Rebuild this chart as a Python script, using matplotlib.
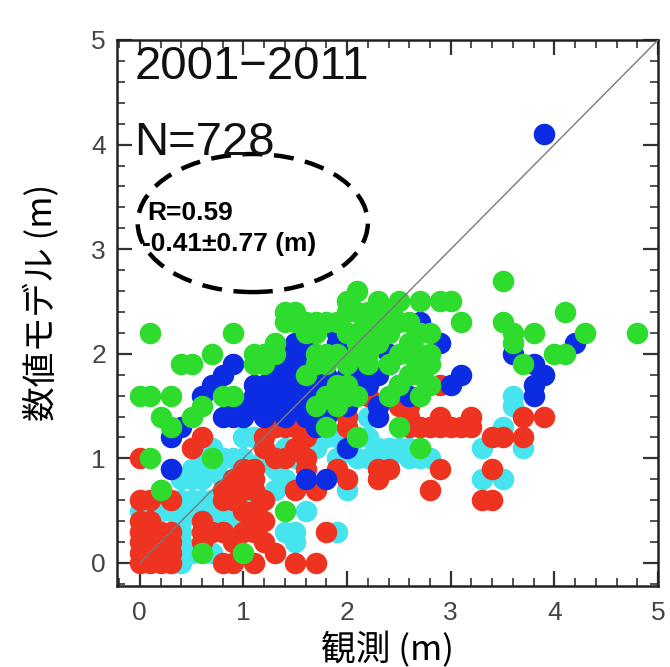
import matplotlib
matplotlib.use("Agg")
import matplotlib.pyplot as plt
from matplotlib.patches import Ellipse
from matplotlib.ticker import MultipleLocator

# ---------------- data (observed, model) ----------------
green_pts = [
    (0.1, 2.2), (0.9, 2.2), (0.4, 1.9), (0.5, 1.9), (0.7, 2.0), (0.0, 1.6), (0.1, 1.6), (0.3, 1.6),
    (0.2, 1.4), (0.3, 1.3), (0.5, 1.4), (0.6, 1.5), (0.9, 1.6), (0.8, 1.6), (0.1, 1.0), (0.7, 1.0),
    (0.2, 0.7), (1.4, 0.5), (1.0, 0.1), (0.6, 0.1),
    (1.1, 2.0), (1.1, 1.9), (1.2, 1.9), (1.2, 2.0), (1.3, 2.1), (1.3, 2.0), (1.4, 2.3), (1.4, 2.4),
    (1.5, 2.3), (1.5, 2.4), (1.6, 2.3), (1.6, 2.2), (1.7, 2.3), (1.7, 2.2), (1.8, 2.3), (1.9, 2.3),
    (2.0, 2.4), (2.0, 2.5), (2.1, 2.6), (2.1, 2.4), (2.2, 2.3), (2.2, 2.4), (2.3, 2.5), (2.4, 2.4),
    (2.3, 2.3), (2.1, 2.2), (2.0, 2.2), (1.8, 2.0), (1.9, 2.0), (1.8, 1.9), (1.7, 1.9), (1.7, 2.0),
    (1.6, 1.8), (1.8, 1.6), (1.9, 1.6), (2.0, 1.6), (1.9, 1.5), (1.7, 1.5), (2.2, 1.9), (2.2, 2.0),
    (2.3, 2.1), (2.4, 2.2), (2.5, 2.3), (2.1, 2.0), (2.0, 1.9), (2.1, 2.1), (2.2, 2.2), (1.9, 1.7),
    (2.0, 1.7),
    (2.5, 2.5), (2.7, 2.5), (2.9, 2.5), (3.0, 2.5), (3.1, 2.3), (2.6, 2.3), (2.7, 2.2), (2.8, 2.2),
    (2.6, 2.1), (2.7, 2.0), (2.8, 2.0), (2.7, 1.9), (2.8, 1.9), (2.4, 1.9), (2.6, 1.8), (2.7, 1.8),
    (2.5, 1.7), (2.8, 1.7), (2.7, 1.6), (2.4, 1.6), (2.5, 1.3), (2.7, 1.1), (2.1, 1.2), (1.8, 1.3),
    (2.1, 1.6), (2.6, 2.0), (2.5, 2.0),
    (3.5, 2.7), (3.5, 2.3), (3.6, 2.2), (3.8, 2.2), (3.7, 1.9), (4.1, 2.4), (4.3, 2.2), (4.8, 2.2),
    (4.0, 2.0), (4.1, 2.0), (3.6, 2.1),
]

blue_pts = [
    (3.9, 4.1), (4.2, 2.1), (3.6, 2.0), (3.8, 1.9), (3.9, 1.8), (3.8, 1.7), (3.8, 1.6), (2.7, 2.3),
    (2.9, 2.1), (2.4, 2.0), (2.4, 1.9), (2.3, 1.8), (3.1, 1.8), (3.0, 1.7), (2.5, 1.7), (2.6, 1.6),
    (2.3, 1.5), (1.5, 2.1), (1.9, 2.2), (2.0, 2.2), (1.4, 1.9), (1.3, 1.8), (1.1, 1.6), (1.2, 1.7),
    (1.4, 1.7), (1.5, 1.9), (1.5, 1.8), (1.6, 1.7), (1.6, 2.0), (1.5, 2.0), (1.6, 1.9), (2.0, 1.8),
    (1.8, 1.7), (1.4, 1.5), (1.0, 1.5), (1.2, 1.5), (1.7, 1.3), (1.4, 1.4), (0.9, 1.9), (0.8, 1.8),
    (0.7, 1.7), (0.8, 1.4), (1.0, 1.4), (0.9, 1.4), (0.4, 1.3), (0.3, 1.2), (0.3, 0.9), (1.1, 1.7),
    (1.3, 1.6), (1.5, 1.6), (1.5, 1.5), (1.6, 1.5), (1.7, 1.6), (1.9, 1.7), (2.0, 1.1), (1.6, 0.8),
    (1.8, 0.8), (2.3, 1.4), (1.9, 2.1), (1.3, 1.5), (1.2, 1.4), (1.4, 2.0), (1.6, 2.1), (1.7, 1.8),
    (1.8, 1.8), (2.1, 1.8), (2.2, 1.7), (2.0, 1.5), (1.1, 1.5), (0.9, 1.5), (1.6, 1.4), (1.8, 1.4),
    (0.6, 1.6), (2.0, 2.0),
]

red_pts = [
    (0.0, 0.0), (0.1, 0.0), (0.2, 0.0), (0.3, 0.0), (0.0, 0.1), (0.1, 0.1), (0.2, 0.1), (0.3, 0.1),
    (0.0, 0.2), (0.1, 0.2), (0.3, 0.2), (0.0, 0.3), (0.1, 0.3), (0.2, 0.3), (0.3, 0.3), (0.0, 0.4),
    (0.1, 0.4), (0.0, 0.6), (0.1, 0.6), (0.3, 0.6), (0.0, 1.0), (0.6, 1.2), (0.5, 1.1), (0.6, 0.4),
    (0.7, 0.3), (0.6, 0.3), (0.6, 0.2), (0.8, 0.3), (0.9, 0.2), (0.9, 0.0), (0.8, 0.0), (0.8, 0.7),
    (0.9, 0.8), (1.0, 0.9), (1.0, 0.7), (0.9, 0.6), (1.1, 0.8), (1.2, 1.2), (1.3, 1.3), (1.4, 1.4),
    (1.5, 1.3), (1.5, 1.1), (1.6, 0.9), (1.3, 1.0), (1.2, 0.6), (1.2, 0.4), (1.1, 0.4), (1.0, 0.5),
    (0.8, 0.6), (1.3, 0.1), (1.5, 0.0), (1.7, 0.0), (1.8, 0.3), (1.7, 0.7), (1.2, 1.1), (1.4, 1.3),
    (1.6, 1.2), (1.6, 1.0), (1.4, 1.0), (1.1, 0.9), (1.1, 0.7), (1.1, 0.5), (1.1, 0.3), (1.1, 0.0),
    (1.2, 0.2), (1.0, 0.3), (1.5, 0.7), (1.9, 0.9), (2.0, 0.8), (2.3, 0.8), (2.0, 1.3), (2.0, 1.4),
    (2.2, 1.6), (2.9, 1.7), (2.6, 1.5), (2.5, 1.5), (2.6, 1.4), (2.6, 1.3), (2.7, 1.3), (2.8, 1.3),
    (2.9, 1.3), (3.0, 1.3), (3.1, 1.3), (3.2, 1.3), (3.4, 1.2), (3.5, 1.2), (3.7, 1.2), (3.7, 1.4),
    (3.9, 1.4), (2.9, 1.4), (3.2, 1.4), (2.3, 0.9), (2.4, 0.9), (2.9, 0.9), (2.8, 0.7), (3.4, 0.9),
    (3.3, 0.6), (3.4, 0.6),
]

cyan_pts = [
    (0.0, 0.5), (0.1, 0.5), (0.2, 0.5), (0.3, 0.5), (0.4, 0.5), (0.5, 0.5), (0.6, 0.5), (0.7, 0.5),
    (0.8, 0.5), (0.9, 0.5), (0.2, 0.6), (0.4, 0.6), (0.5, 0.6), (0.6, 0.6), (0.7, 0.6), (0.2, 0.7),
    (0.4, 0.8), (0.5, 0.8), (0.5, 0.9), (0.6, 0.9), (0.6, 1.0), (0.7, 0.9), (0.6, 0.8), (0.8, 0.8),
    (0.8, 1.0), (0.7, 1.1), (0.9, 1.0), (1.0, 1.2), (0.4, 0.0), (0.4, 0.1), (0.4, 0.2), (0.4, 0.3),
    (0.4, 0.4), (0.2, 0.2), (0.5, 0.1), (0.7, 0.1), (0.9, 0.4), (0.7, 0.4), (1.1, 1.2), (1.3, 1.3),
    (1.2, 1.0), (1.4, 0.8), (1.5, 0.7), (1.3, 0.7), (1.0, 0.6), (1.6, 0.5), (1.5, 0.3), (1.4, 0.3),
    (1.5, 0.2), (1.9, 0.3), (1.8, 1.2), (1.9, 1.2), (2.1, 1.2), (2.2, 1.2), (2.1, 1.0), (2.2, 1.0),
    (2.0, 0.7), (1.7, 1.1), (2.3, 1.1), (2.4, 1.1), (2.5, 1.1), (2.6, 1.1), (2.7, 1.0), (2.8, 1.0),
    (2.4, 1.0), (2.3, 1.0), (2.2, 1.4), (3.3, 1.1), (3.3, 0.8), (3.5, 0.8), (3.6, 1.5), (3.5, 1.3),
    (3.7, 1.1), (3.6, 1.6), (1.6, 1.1), (1.5, 1.0), (1.9, 1.0), (2.6, 1.0), (2.0, 1.1), (1.4, 1.1),
    (1.3, 0.9), (1.0, 1.0),
]

series = [("cyan", cyan_pts, "#46e4ee"), ("red", red_pts, "#ee3320"),
          ("blue", blue_pts, "#0c2ce4"), ("green", green_pts, "#2edc2e")]

period_text = "2001\u22122011"
n_text = "N=728"
r_text = "R=0.59"
bias_text = "-0.41\u00b10.77 (m)"
xlabel = "観測 (m)"
ylabel = "数値モデル (m)"

# ---------------- figure ----------------
fig = plt.figure(figsize=(6.70, 6.67), dpi=100)
ax = fig.add_axes([117 / 670, 1 - 586 / 667, 541 / 670, 546 / 667])
ax.set_xlim(-0.22, 5.0)
ax.set_ylim(-0.22, 5.0)

for name, pts, col in series:
    xs = [p[0] for p in pts]
    ys = [p[1] for p in pts]
    ax.scatter(xs, ys, s=240, c=col, linewidths=0, zorder=2)

ax.plot([0, 5], [0, 5], color="#7a7a7a", lw=1.0, zorder=3)

ell = Ellipse((1.09, 3.25), 2.22, 1.32, fill=False, ec="black", lw=3.2,
              ls=(0, (4.5, 2.6)), zorder=4)
ax.add_patch(ell)

ax.text(0.07, 3.35, r_text, fontsize=19, fontweight="bold", family="Liberation Sans",
        va="center", ha="left", zorder=5)
ax.text(0.02, 3.05, bias_text, fontsize=19, fontweight="bold", family="Liberation Sans",
        va="center", ha="left", zorder=5)

ax.text(-0.05, 4.74, period_text, fontsize=34, family="Liberation Sans",
        va="center", ha="left", color="#111111", zorder=5)
ax.text(-0.05, 4.02, n_text, fontsize=34, family="Liberation Sans",
        va="center", ha="left", color="#111111", zorder=5)

# ticks
ax.xaxis.set_major_locator(MultipleLocator(1))
ax.yaxis.set_major_locator(MultipleLocator(1))
ax.xaxis.set_minor_locator(MultipleLocator(0.2))
ax.yaxis.set_minor_locator(MultipleLocator(0.2))
ax.tick_params(which="both", direction="in", top=True, right=True, color="#333333")
ax.tick_params(which="major", length=11, width=1.6, labelsize=19, labelcolor="#444444")
ax.tick_params(axis="x", which="major", pad=11)
ax.tick_params(axis="y", which="major", pad=8)
ax.tick_params(which="minor", length=6, width=1.2)
for lab in ax.get_xticklabels() + ax.get_yticklabels():
    lab.set_family("Liberation Sans")
for sp in ax.spines.values():
    sp.set_linewidth(1.8)
    sp.set_color("#222222")

ax.set_xlabel(xlabel, fontsize=25, family=["Noto Sans CJK JP", "DejaVu Sans"])
ax.set_ylabel(ylabel, fontsize=25, family=["Noto Sans CJK JP", "DejaVu Sans"])
ax.xaxis.set_label_coords(0.50, -0.084)
ax.yaxis.set_label_coords(-0.105, 0.52)

fig.savefig("out.png", dpi=100)
